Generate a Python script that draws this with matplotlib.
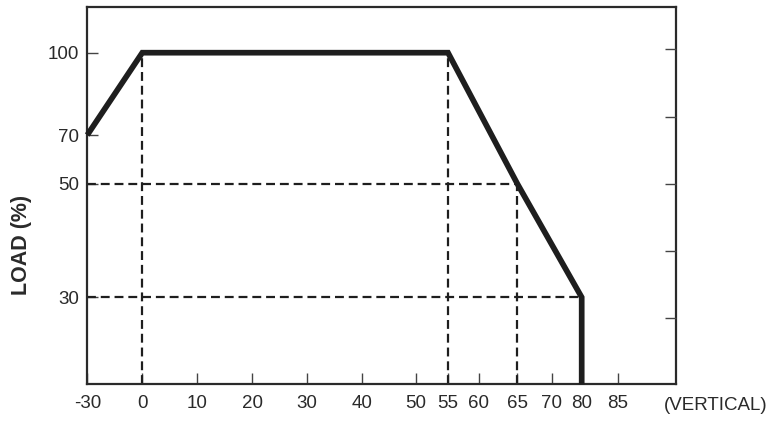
import matplotlib
matplotlib.use('Agg')
import matplotlib.pyplot as plt
import numpy as np

plt.rcParams['font.family'] = ['Liberation Sans', 'DejaVu Sans']

# derating curve (ambient temp vs load)
temp = [-30, 0, 55, 65, 80, 80]
load = [70, 100, 100, 50, 30, 0]

x_ticks = [-30, 0, 10, 20, 30, 40, 50, 55, 60, 65, 70, 80, 85]
y_ticks = [30, 50, 70, 100]

# guide lines: (x0, x1, y0, y1)
guides = [(0, 0, 0, 100), (55, 55, 0, 100), (65, 65, 0, 50),
          (-30, 65, 50, 50), (-30, 80, 30, 30)]

# the axes in the original are not linear, so build a piecewise scale
xs_val = np.array([-30, 0, 10, 20, 30, 40, 50, 55, 60, 65, 70, 80, 85, 95])
xs_pos = np.array([87.3, 142.3, 197.3, 252, 306.7, 361.7, 416, 448, 478.7,
                   517.3, 551.7, 581.7, 617.7, 676])
ys_val = np.array([0, 30, 50, 70, 100, 115])
ys_pos = np.array([0, 87, 200.6, 249.3, 331.6, 377.3])

def fx(v):
    return np.interp(v, xs_val, xs_pos)
def ifx(p):
    return np.interp(p, xs_pos, xs_val)
def fy(v):
    return np.interp(v, ys_val, ys_pos)
def ify(p):
    return np.interp(p, ys_pos, ys_val)

fig = plt.figure(figsize=(7.72, 4.24), dpi=100)
ax = fig.add_axes([87.3/772, 1-384.3/424, (676-87.3)/772, (384.3-7)/424])
ax.set_xscale('function', functions=(fx, ifx))
ax.set_yscale('function', functions=(fy, ify))
ax.set_xlim(-30, 95)
ax.set_ylim(0, 115)

dark = '#1e1e1e'
for x0, x1, y0, y1 in guides:
    ax.plot([x0, x1], [y0, y1], color=dark, lw=1.6, dashes=(4.0, 2.2), zorder=2)

ax.plot(temp, load, color=dark, lw=4.1, solid_joinstyle='miter',
        solid_capstyle='butt', zorder=3, clip_on=False)

ax.set_xticks(x_ticks)
ax.set_xticklabels([str(t) for t in x_ticks])
ax.set_yticks(y_ticks)
ax.set_yticklabels([str(t) for t in y_ticks])
ax.xaxis.set_minor_locator(plt.NullLocator())
ax.yaxis.set_minor_locator(plt.NullLocator())
ax.tick_params(direction='in', length=8, width=1, color='#444444',
               labelsize=13.5, labelcolor='#2a2a2a')
ax.tick_params(axis='x', pad=8)
ax.tick_params(axis='y', pad=6)
for s in ax.spines.values():
    s.set_linewidth(1.6)
    s.set_color('#2a2a2a')

# small ticks on the right spine
ax2 = ax.twinx()
ax2.set_ylim(0, 1)
ax2.set_yticks([0.175, 0.353, 0.531, 0.708, 0.888])
ax2.tick_params(direction='in', length=8, width=1, color='#444444',
                labelright=False)
for side in ['right', 'left', 'top', 'bottom']:
    ax2.spines[side].set_visible(False)

fig.text(22/772, 1-245/424, 'LOAD (%)', rotation=90, fontsize=15.5,
         fontweight='bold', color='#2a2a2a', ha='center', va='center')
fig.text(715.5/772, 1-405/424, '(VERTICAL)', fontsize=13.5, color='#2a2a2a',
         ha='center', va='center')

fig.savefig('out.png', dpi=100)
